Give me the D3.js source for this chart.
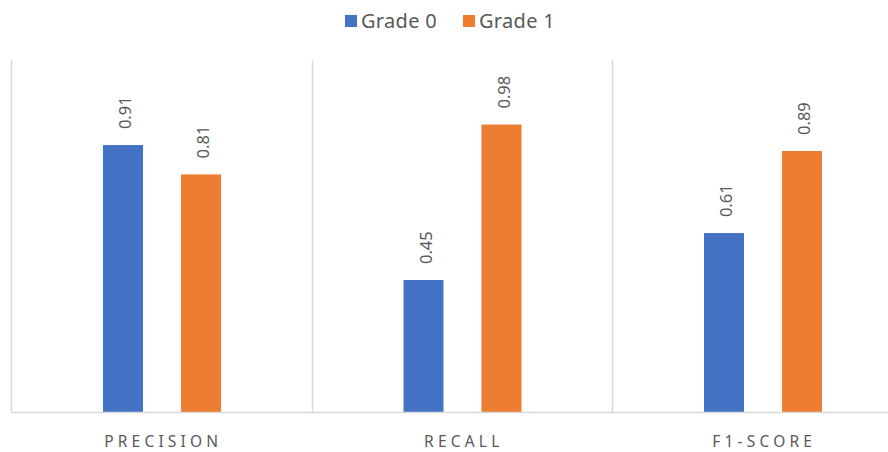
<!DOCTYPE html>
<html>
<head>
<meta charset="utf-8">
<script src="https://cdn.jsdelivr.net/npm/d3@7"></script>
<style>
  body { margin: 0; background: #fff; }
  text { font-family: "Noto Sans", "Open Sans", sans-serif; fill: #595959; }
</style>
</head>
<body>
<div class="canvas"></div>
<script>
// chart data
const categories = ['PRECISION', 'RECALL', 'F1-SCORE'];
const seriesNames = ['Grade 0', 'Grade 1'];
const grade0 = [0.91, 0.45, 0.61];
const grade1 = [0.81, 0.98, 0.89];
const colors = ['#4472c4', '#ed7d31'];

const width = 888, height = 452;
const margin = {top: 60, left: 11, bottom: 40};
const graphHeight = height - margin.top - margin.bottom;
const bandWidth = 300.5;

const svg = d3.select('.canvas')
  .append('svg')
    .attr('width', width)
    .attr('height', height);

const graph = svg.append('g')
  .attr('transform', `translate(${margin.left}, ${margin.top})`);

// scales
const x = d3.scaleBand()
  .domain(categories)
  .range([0, bandWidth * categories.length]);

// bars sit 92..210 inside each category, 40px wide with a 38px gap
const x1 = d3.scaleBand()
  .domain(seriesNames)
  .range([92, 210])
  .paddingInner(38 / 78);

const y = d3.scaleLinear()
  .domain([0, 1.2])
  .range([graphHeight, 0]);

// category separators
graph.selectAll('line.sep')
  .data(categories)
  .enter().append('line')
    .attr('class', 'sep')
    .attr('x1', d => Math.round(x(d)) + 0.5)
    .attr('x2', d => Math.round(x(d)) + 0.5)
    .attr('y1', 0)
    .attr('y2', graphHeight)
    .attr('stroke', '#d9d9d9')
    .attr('stroke-width', 1.5);

// bars
const rows = categories.map((c, i) => ({cat: c, values: [grade0[i], grade1[i]]}));

const groups = graph.selectAll('g.cat')
  .data(rows)
  .enter().append('g')
    .attr('class', 'cat')
    .attr('transform', d => `translate(${x(d.cat)}, 0)`);

groups.selectAll('rect')
  .data(d => d.values.map((v, j) => ({name: seriesNames[j], value: v, j})))
  .enter().append('rect')
    .attr('x', d => x1(d.name))
    .attr('width', x1.bandwidth())
    .attr('y', d => y(d.value))
    .attr('height', d => graphHeight - y(d.value))
    .attr('fill', d => colors[d.j]);

// value labels, rotated
groups.selectAll('text.val')
  .data(d => d.values.map((v, j) => ({name: seriesNames[j], value: v})))
  .enter().append('text')
    .attr('class', 'val')
    .attr('transform', d => `translate(${x1(d.name) + x1.bandwidth() / 2 + 8}, ${y(d.value) - 16}) rotate(-90)`)
    .attr('text-anchor', 'start')
    .style('font-size', '16.5px')
    .text(d => d.value.toFixed(2));

// x axis line
graph.append('line')
  .attr('x1', 0)
  .attr('x2', width)
  .attr('y1', graphHeight + 0.5)
  .attr('y2', graphHeight + 0.5)
  .attr('stroke', '#d9d9d9')
  .attr('stroke-width', 1.5);

// category labels
graph.selectAll('text.cat')
  .data(categories)
  .enter().append('text')
    .attr('class', 'cat')
    .attr('x', d => x(d) + x.bandwidth() / 2 + 2)
    .attr('y', graphHeight + 35)
    .attr('text-anchor', 'middle')
    .style('font-size', '15.5px')
    .style('letter-spacing', '4.2px')
    .text(d => d);

// legend
const legendX = [345, 463];
const legend = svg.selectAll('g.legend')
  .data(seriesNames)
  .enter().append('g')
    .attr('class', 'legend')
    .attr('transform', (d, i) => `translate(${legendX[i]}, 15)`);

legend.append('rect')
  .attr('width', 12)
  .attr('height', 12)
  .attr('fill', (d, i) => colors[i]);

legend.append('text')
  .attr('x', 16)
  .attr('y', 12.5)
  .style('font-size', '20px')
  .style('letter-spacing', '0.3px')
  .text(d => d);
</script>
</body>
</html>
